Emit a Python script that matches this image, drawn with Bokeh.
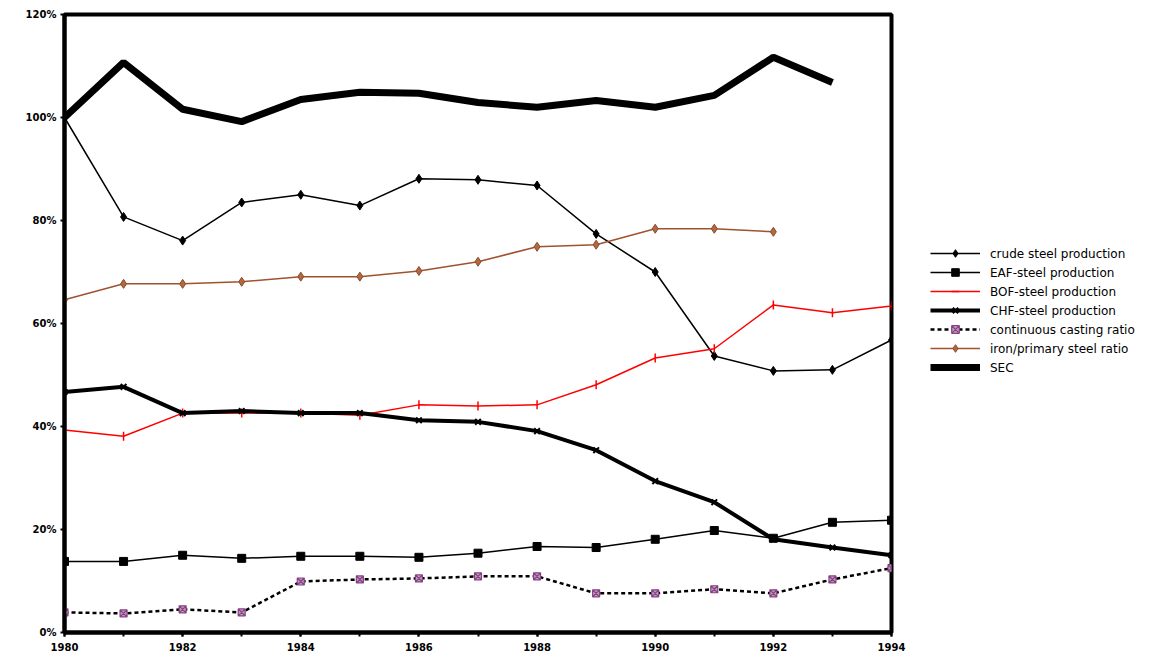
from bokeh.plotting import figure
from bokeh.models import Legend, LegendItem, FixedTicker, Range1d
from bokeh.embed import file_html
from bokeh.resources import INLINE

years = list(range(1980, 1995))

sec = [100, 110.7, 101.6, 99.2, 103.5, 104.9, 104.7, 102.9, 102.0, 103.3, 102.0, 104.3, 111.7, 106.8]
crude = [100, 80.7, 76.1, 83.5, 85.0, 82.9, 88.1, 87.9, 86.8, 77.4, 70.0, 53.7, 50.8, 51.0, 56.8]
iron_ratio = [64.6, 67.7, 67.7, 68.1, 69.1, 69.1, 70.2, 72.0, 74.9, 75.3, 78.4, 78.4, 77.8]
bof = [39.3, 38.1, 42.6, 42.6, 42.6, 42.2, 44.2, 44.0, 44.2, 48.1, 53.3, 55.1, 63.6, 62.1, 63.4]
chf = [46.7, 47.7, 42.6, 43.0, 42.6, 42.6, 41.2, 40.9, 39.1, 35.4, 29.4, 25.3, 18.1, 16.5, 15.0]
eaf = [13.8, 13.8, 15.0, 14.4, 14.8, 14.8, 14.6, 15.4, 16.7, 16.5, 18.1, 19.8, 18.3, 21.4, 21.8]
cc_ratio = [3.9, 3.7, 4.5, 3.9, 9.9, 10.3, 10.5, 10.9, 10.9, 7.6, 7.6, 8.4, 7.6, 10.3, 12.5]

y_ticks = [0, 20, 40, 60, 80, 100, 120]
y_labels = {0: "0%", 20: "20%", 40: "40%", 60: "60%", 80: "80%", 100: "100%", 120: "120%"}
x_major = [1980, 1982, 1984, 1986, 1988, 1990, 1992, 1994]

p = figure(frame_width=827, frame_height=618, output_backend="svg", toolbar_location=None,
           x_range=Range1d(1980, 1994), y_range=Range1d(0, 120))
p.min_border_left = 64
p.min_border_right = 269
p.min_border_top = 14
p.min_border_bottom = 23
p.grid.visible = False
p.outline_line_color = "black"
p.outline_line_width = 4
p.background_fill_color = "white"
p.border_fill_color = "white"

for ax in (p.xaxis[0], p.yaxis[0]):
    ax.axis_line_width = 4
    ax.axis_line_color = "black"
    ax.major_tick_line_width = 2
    ax.major_tick_out = 4
    ax.major_tick_in = 0
    ax.minor_tick_line_width = 2
    ax.minor_tick_out = 4
    ax.minor_tick_in = 0
    ax.major_label_text_font = "DejaVu Sans"
    ax.major_label_text_font_style = "bold"
    ax.major_label_text_font_size = "10px"
    ax.major_label_text_color = "black"

p.xaxis.ticker = FixedTicker(ticks=x_major, minor_ticks=years)
p.xaxis.major_label_standoff = 6
p.yaxis.ticker = FixedTicker(ticks=y_ticks, minor_ticks=[])
p.yaxis.major_label_overrides = y_labels
p.yaxis.major_label_standoff = 4

r_crude = p.line(years[:len(crude)], crude, line_color="black", line_width=1.5)
m_crude = p.scatter(years[:len(crude)], crude, marker="diamond", size=9, color="black")

r_eaf = p.line(years[:len(eaf)], eaf, line_color="black", line_width=1.5)
m_eaf = p.scatter(years[:len(eaf)], eaf, marker="square", size=8, color="black")

r_bof = p.line(years[:len(bof)], bof, line_color="red", line_width=1.5)
m_bof = p.scatter(years[:len(bof)], bof, marker="dash", angle=1.5708, size=9, line_color="red", line_width=1.5)

r_chf = p.line(years[:len(chf)], chf, line_color="black", line_width=4)
m_chf = p.scatter(years[:len(chf)], chf, marker="x", size=8, line_color="black", line_width=2)

r_cc = p.line(years[:len(cc_ratio)], cc_ratio, line_color="black", line_width=2.5, line_dash="4 3")
m_cc = p.scatter(years[:len(cc_ratio)], cc_ratio, marker="square_x", size=7,
                 line_color="#8a3f86", fill_color="#b8a0b8", line_width=1.2)

r_iron = p.line(years[:len(iron_ratio)], iron_ratio, line_color="#a0522d", line_width=1.5)
m_iron = p.scatter(years[:len(iron_ratio)], iron_ratio, marker="diamond", size=9,
                   line_color="#8b4a2b", fill_color="#b06a40")

r_sec = p.line(years[:len(sec)], sec, line_color="black", line_width=7)

legend = Legend(items=[
    LegendItem(label="crude steel production", renderers=[r_crude, m_crude]),
    LegendItem(label="EAF-steel production", renderers=[r_eaf, m_eaf]),
    LegendItem(label="BOF-steel production", renderers=[r_bof, m_bof]),
    LegendItem(label="CHF-steel production", renderers=[r_chf, m_chf]),
    LegendItem(label="continuous casting ratio", renderers=[r_cc, m_cc]),
    LegendItem(label="iron/primary steel ratio", renderers=[r_iron, m_iron]),
    LegendItem(label="SEC", renderers=[r_sec]),
], location="left")
legend.border_line_color = None
legend.background_fill_alpha = 0
legend.margin = 39
legend.padding = 0
legend.spacing = 0
legend.glyph_width = 50
legend.glyph_height = 19
legend.label_height = 19
legend.label_standoff = 10
legend.label_text_font = "DejaVu Sans"
legend.label_text_font_size = "12px"
legend.label_text_color = "black"
if "title_location" in Legend.properties():
    legend.title = " "
    legend.title_location = "below"
    legend.title_text_font_size = "1px"
    legend.title_standoff = 25
p.add_layout(legend, "right")

open("out.html", "w").write(file_html(p, INLINE))
